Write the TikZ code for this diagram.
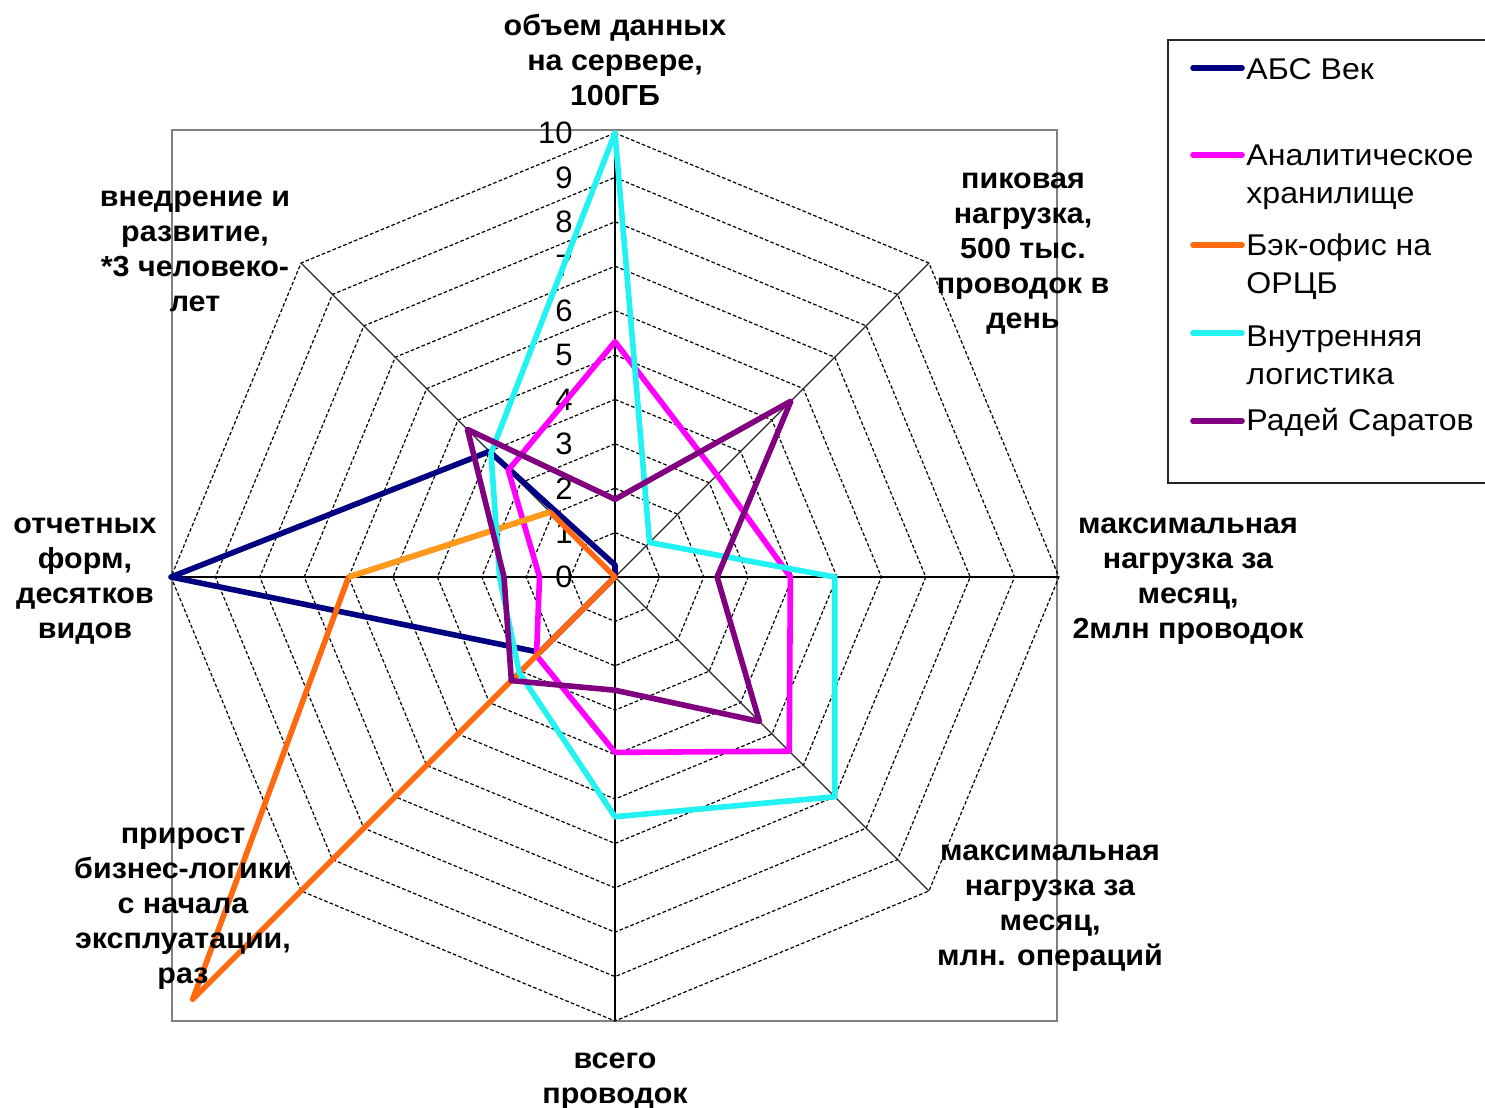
\documentclass[tikz,border=0pt]{standalone}
\usepackage{fontspec}
\setmainfont{Liberation Sans}
\newfontfamily\labfont{Liberation Sans}[FakeStretch=1.05]
\newfontfamily\legfont{Liberation Sans}[FakeStretch=1.07]
\definecolor{sNavy}{HTML}{000080}
\definecolor{sMag}{HTML}{FF00FF}
\definecolor{sOrange}{HTML}{FF6A10}
\definecolor{sOrangeL}{HTML}{FF9A1A}
\definecolor{sCyan}{HTML}{22F2F2}
\definecolor{sPurple}{HTML}{800080}
\begin{document}
\begin{tikzpicture}[x=0.5pt,y=-0.5pt,
  axislab/.style={font=\labfont\bfseries\fontsize{14.5}{17.5}\selectfont, align=center, inner sep=0pt},
  ticklab/.style={font=\fontsize{15.5}{18}\selectfont, anchor=east, inner sep=0pt},
  legtext/.style={font=\legfont\fontsize{15}{19}\selectfont, align=left, anchor=west, inner sep=0pt},
  gridring/.style={black, line width=0.6pt, dash pattern=on 1.8pt off 1.1pt},
  spoke/.style={black!85, line width=0.55pt},
  mainaxis/.style={black, line width=0.8pt},
  series/.style={line width=2.8pt, line join=round},
  legline/.style={line width=2.8pt, line cap=round}]
\useasboundingbox (0,0) rectangle (1485,1108);
% plot area border
\draw[gray, line width=0.75pt] (172,130) rectangle (1057,1021);
\begin{scope}[shift={(615,577)}, yscale=-1]
  \def\U{44.4}
  \foreach \i in {1,...,10}
    \draw[gridring] ({90}:{\i*\U}) -- ({45}:{\i*\U}) -- ({0}:{\i*\U}) -- ({-45}:{\i*\U}) -- ({-90}:{\i*\U}) -- ({-135}:{\i*\U}) -- ({180}:{\i*\U}) -- ({135}:{\i*\U}) -- cycle;
  \foreach \a in {45,135,-45,-135}
    \draw[spoke] (0,0) -- ({\a}:{10*\U});
  \draw[mainaxis] ({180}:{10*\U}) -- ({0}:{10*\U});
  \draw[mainaxis] ({-90}:{10*\U}) -- ({90}:{10*\U});
\end{scope}
% tick labels
\foreach \k in {0,...,10}
  \node[ticklab] (t\k) at (573,{577-44.4*\k}) {\k};
\begin{scope}[shift={(615,577)}, yscale=-1]
  \def\U{44.4}
  % АБС Век
  \draw[series, sNavy] ({90}:{0.27*\U}) -- (0,0) -- ({-135}:{2.4*\U}) -- ({180}:{10*\U}) -- ({135}:{4.0*\U}) -- cycle;
  % Аналитическое хранилище
  \draw[series, sMag] ({90}:{5.3*\U}) -- ({45}:{3.25*\U}) -- ({0}:{3.95*\U}) -- ({-45}:{5.55*\U}) -- ({-90}:{3.95*\U}) -- ({-135}:{2.5*\U}) -- ({180}:{1.7*\U}) -- ({135}:{3.4*\U}) -- cycle;
  % Бэк-офис на ОРЦБ
  \draw[series, sOrange] (0,0) -- ({-135}:{13.45*\U}) -- ({180}:{6.0*\U}) -- ({135}:{2.07*\U}) -- cycle;
  \draw[series, sOrangeL] ({180}:{6.0*\U}) -- ({135}:{2.07*\U});
  % Внутренняя логистика
  \draw[series, sCyan] ({90}:{10*\U}) -- ({45}:{1.1*\U}) -- ({0}:{4.95*\U}) -- ({-45}:{7.0*\U}) -- ({-90}:{5.4*\U}) -- ({-135}:{3.05*\U}) -- ({180}:{2.6*\U}) -- ({135}:{3.95*\U}) -- cycle;
  % Радей Саратов
  \draw[series, sPurple] ({90}:{1.75*\U}) -- ({45}:{5.6*\U}) -- ({0}:{2.3*\U}) -- ({-45}:{4.6*\U}) -- ({-90}:{2.55*\U}) -- ({-135}:{3.3*\U}) -- ({180}:{2.5*\U}) -- ({135}:{4.7*\U}) -- cycle;
\end{scope}
% axis labels
\node[axislab] (a0) at (615,60) {объем данных\\на сервере,\\100ГБ};
\node[axislab] (a1) at (1023,254) {пиковая\\нагрузка,\\500 тыс.\\проводок в\\день};
\node[axislab] (a2) at (1188,581) {максимальная\\нагрузка за\\месяц,\\2млн проводок};
\node[axislab] (a3) at (1050,908) {максимальная\\нагрузка за\\месяц,\\млн. операций};
\node[axislab] (a4) at (615,1081) {всего\\проводок};
\node[axislab] (a5) at (183,909) {прирост\\бизнес-логики\\с начала\\эксплуатации,\\раз};
\node[axislab] (a6) at (85,581) {отчетных\\форм,\\десятков\\видов};
\node[axislab] (a7) at (195,251) {внедрение и\\развитие,\\*3 человеко-\\лет};
% legend
\draw[black!85, line width=0.75pt] (1486,40) -- (1168,40) -- (1168,483) -- (1486,483);
\coordinate (l1a) at (1193,68);  \coordinate (l1b) at (1242,68);
\coordinate (l2a) at (1193,155); \coordinate (l2b) at (1242,155);
\coordinate (l3a) at (1193,245); \coordinate (l3b) at (1242,245);
\coordinate (l4a) at (1193,333); \coordinate (l4b) at (1242,333);
\coordinate (l5a) at (1193,421); \coordinate (l5b) at (1242,421);
\draw[legline, sNavy] (l1a) -- (l1b);
\draw[legline, sMag] (l2a) -- (l2b);
\draw[legline, sOrange] (l3a) -- (l3b);
\draw[legline, sCyan] (l4a) -- (l4b);
\draw[legline, sPurple] (l5a) -- (l5b);
\node[legtext] (g1) at (1246,69) {АБС Век};
\node[legtext] (g2) at (1246,177) {Аналитическое\\хранилище};
\node[legtext] (g3) at (1246,267) {Бэк-офис на\\ОРЦБ};
\node[legtext] (g4) at (1246,355) {Внутренняя\\логистика};
\node[legtext] (g5) at (1246,422) {Радей Саратов};
\end{tikzpicture}
\end{document}
